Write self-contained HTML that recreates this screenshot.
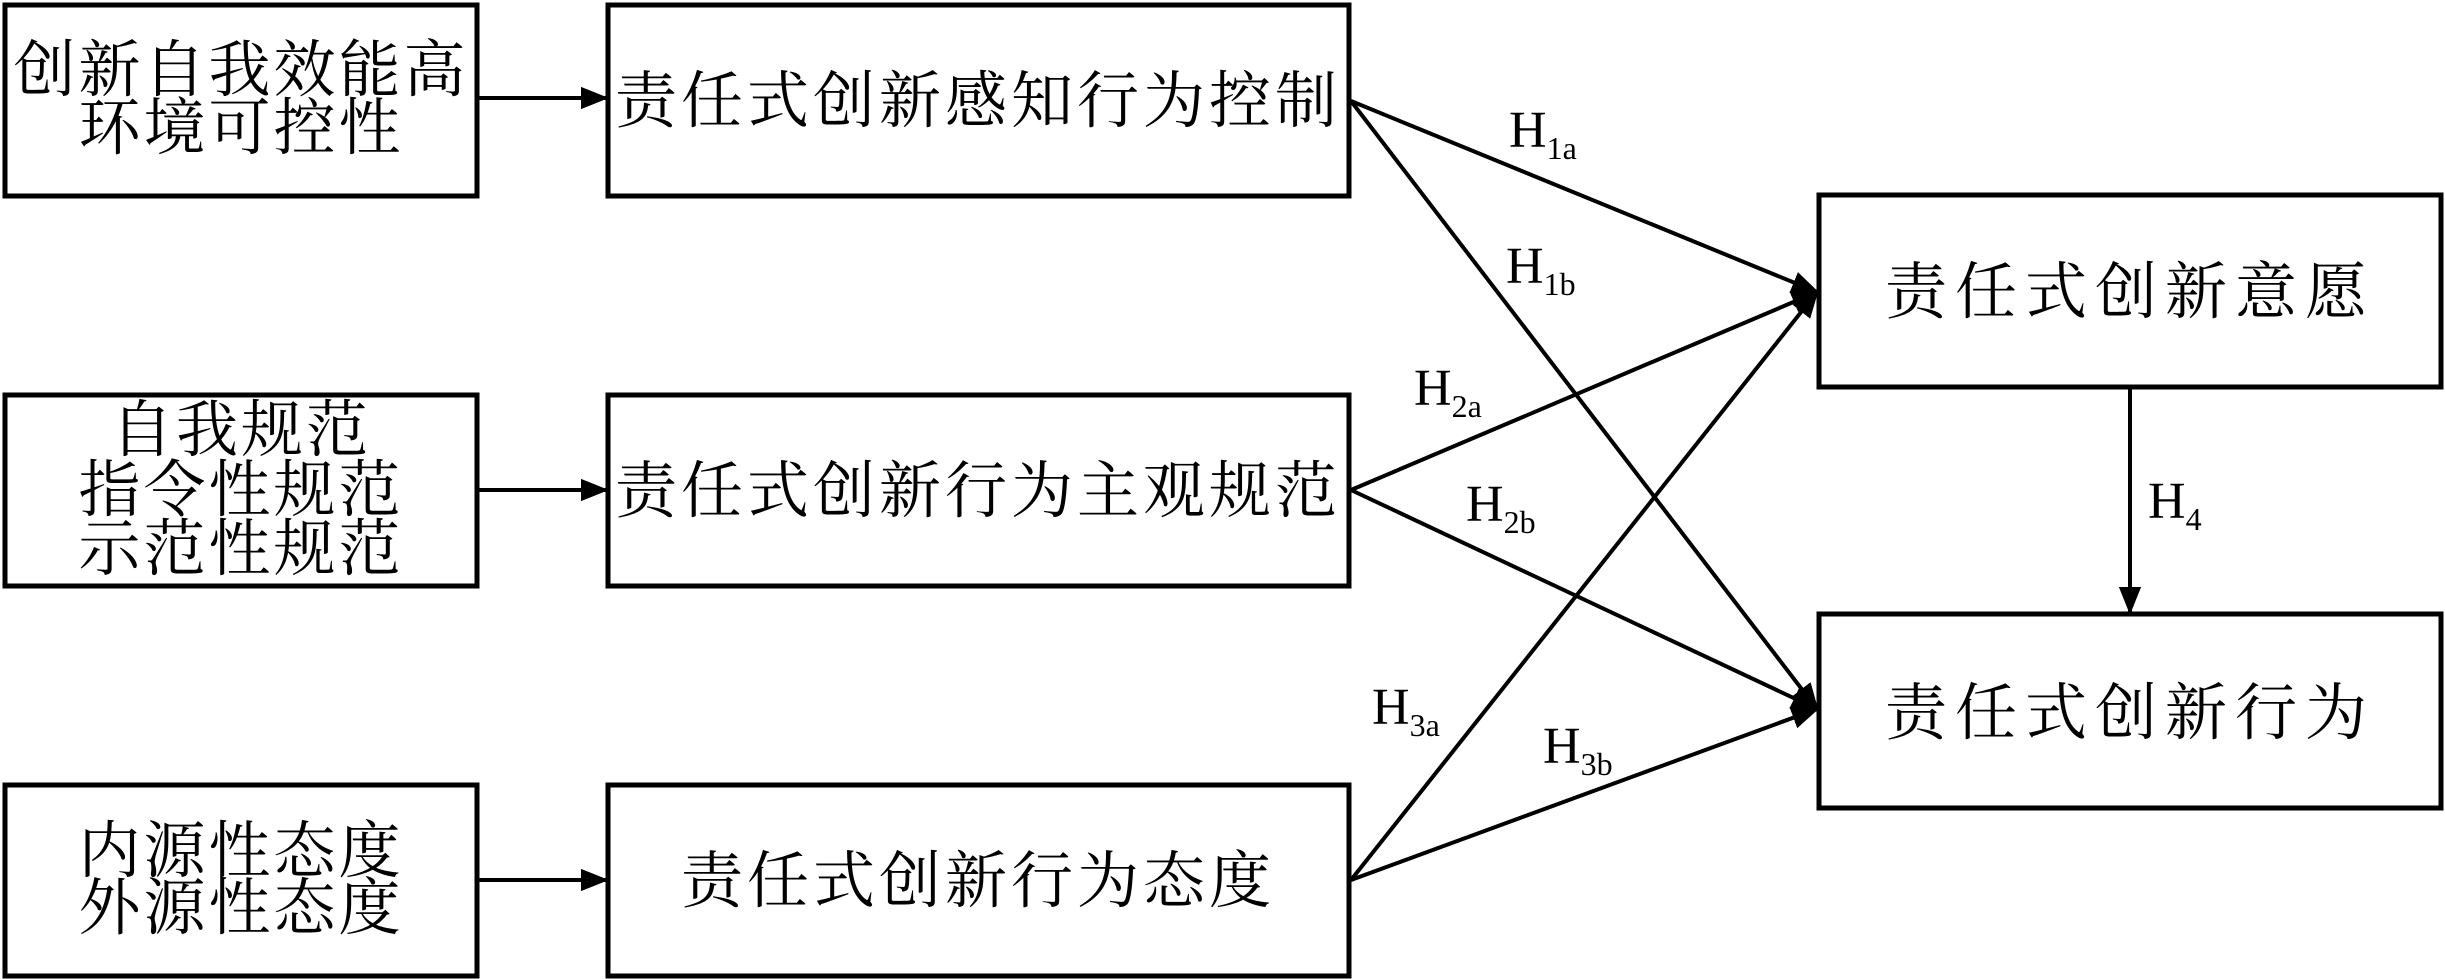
<!DOCTYPE html>
<html><head><meta charset="utf-8"><style>
html,body{margin:0;padding:0;background:#fff;}
svg{display:block;}
.c{font-family:"Liberation Serif","Noto Serif CJK SC",serif;font-size:62px;fill:#000;}
.h{font-family:"Liberation Serif",serif;font-size:52px;fill:#000;}
.s{font-size:32px;}
</style></head><body>
<svg width="2445" height="979" viewBox="0 0 2445 979" xmlns="http://www.w3.org/2000/svg">
<defs>
<marker id="b" viewBox="0 0 10 10" refX="9" refY="5" markerWidth="28" markerHeight="28" orient="auto" markerUnits="userSpaceOnUse"><path d="M0,1 L10,5 L0,9z" fill="#000"/></marker></defs>
<g fill="none" stroke="#000" stroke-width="5">
<rect x="5" y="5" width="472" height="191"/>
<rect x="5" y="395" width="472" height="191"/>
<rect x="5" y="785" width="472" height="191"/>
<rect x="608" y="5" width="741" height="191"/>
<rect x="608" y="395" width="741" height="191"/>
<rect x="608" y="785" width="741" height="191"/>
<rect x="1819" y="195" width="622" height="192"/>
<rect x="1819" y="614" width="622" height="194"/>
</g>
<g stroke="#000" stroke-width="4" fill="none" marker-end="url(#b)">
<line x1="477" y1="98" x2="606" y2="98"/>
<line x1="477" y1="490" x2="606" y2="490"/>
<line x1="477" y1="880" x2="606" y2="880"/>
<line x1="1351" y1="101" x2="1817" y2="292"/>
<line x1="1351" y1="101" x2="1817" y2="709"/>
<line x1="1351" y1="490" x2="1817" y2="292"/>
<line x1="1351" y1="490" x2="1817" y2="709"/>
<line x1="1351" y1="880" x2="1817" y2="292"/>
<line x1="1351" y1="880" x2="1817" y2="709"/>
<line x1="2130" y1="389" x2="2130" y2="612"/>
</g>
<g class="c" text-anchor="middle">
<text x="241" y="91" letter-spacing="3">创新自我效能高</text>
<text x="241" y="149" letter-spacing="3">环境可控性</text>
<text x="241" y="451" letter-spacing="3">自我规范</text>
<text x="241" y="511" letter-spacing="3">指令性规范</text>
<text x="241" y="570" letter-spacing="3">示范性规范</text>
<text x="241" y="872" letter-spacing="3">内源性态度</text>
<text x="241" y="929" letter-spacing="3">外源性态度</text>
<text x="978" y="122" letter-spacing="4">责任式创新感知行为控制</text>
<text x="978" y="512" letter-spacing="4">责任式创新行为主观规范</text>
<text x="978" y="902" letter-spacing="4">责任式创新行为态度</text>
<text x="2130" y="313" letter-spacing="8">责任式创新意愿</text>
<text x="2130" y="734" letter-spacing="8">责任式创新行为</text>
</g>
<g class="h">
<text x="1509" y="147">H<tspan class="s" dy="12">1a</tspan></text>
<text x="1506" y="283">H<tspan class="s" dy="12">1b</tspan></text>
<text x="1414" y="405">H<tspan class="s" dy="12">2a</tspan></text>
<text x="1466" y="521">H<tspan class="s" dy="12">2b</tspan></text>
<text x="1372" y="724">H<tspan class="s" dy="12">3a</tspan></text>
<text x="1543" y="763">H<tspan class="s" dy="12">3b</tspan></text>
<text x="2148" y="518">H<tspan class="s" dy="12">4</tspan></text>
</g>
</svg>
</body></html>
